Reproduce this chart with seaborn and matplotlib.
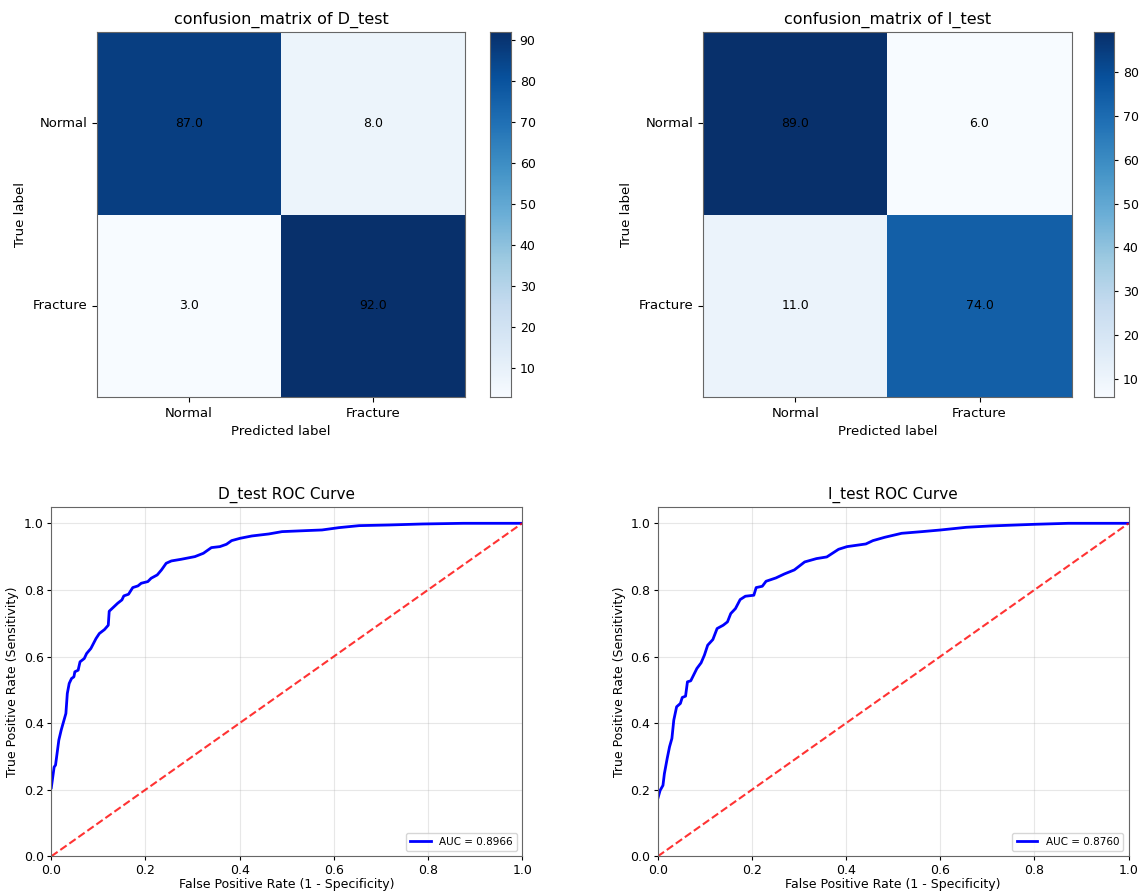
import numpy as np
import pandas as pd
import matplotlib
matplotlib.use("Agg")
import matplotlib.pyplot as plt
import seaborn as sns

class_names = ["Normal", "Fracture"]

cm_d_test = [[87, 8],
             [3, 92]]
cm_i_test = [[89, 6],
             [11, 74]]

# ROC points
fpr_d = [0.0, 0.006, 0.009, 0.016, 0.021, 0.027, 0.031, 0.034, 0.038, 0.043, 0.048, 0.050,
         0.057, 0.061, 0.070, 0.075, 0.084, 0.095, 0.102, 0.113, 0.121, 0.123, 0.132, 0.141,
         0.150, 0.154, 0.164, 0.173, 0.184, 0.191, 0.205, 0.212, 0.225, 0.234, 0.244, 0.255,
         0.276, 0.305, 0.323, 0.340, 0.358, 0.372, 0.383, 0.401, 0.426, 0.462, 0.490, 0.540,
         0.575, 0.611, 0.654, 0.718, 0.789, 0.875, 1.0]
tpr_d = [0.206, 0.268, 0.274, 0.349, 0.379, 0.409, 0.429, 0.489, 0.519, 0.534, 0.539, 0.554,
         0.559, 0.584, 0.594, 0.609, 0.624, 0.654, 0.669, 0.681, 0.694, 0.736, 0.748, 0.760,
         0.770, 0.782, 0.787, 0.807, 0.812, 0.820, 0.825, 0.835, 0.845, 0.860, 0.880, 0.887,
         0.892, 0.900, 0.910, 0.927, 0.930, 0.937, 0.948, 0.955, 0.962, 0.968, 0.975, 0.978,
         0.980, 0.987, 0.993, 0.995, 0.998, 1.0, 1.0]
auc_d = 0.8966

fpr_i = [0.0, 0.005, 0.011, 0.014, 0.020, 0.025, 0.030, 0.034, 0.040, 0.048, 0.052, 0.059,
         0.063, 0.070, 0.076, 0.083, 0.092, 0.099, 0.106, 0.117, 0.126, 0.139, 0.148, 0.155,
         0.165, 0.175, 0.186, 0.204, 0.209, 0.222, 0.230, 0.251, 0.269, 0.290, 0.312, 0.337,
         0.359, 0.384, 0.402, 0.442, 0.457, 0.482, 0.518, 0.561, 0.601, 0.655, 0.706, 0.800,
         0.872, 1.0]
tpr_i = [0.173, 0.198, 0.213, 0.248, 0.294, 0.329, 0.354, 0.409, 0.449, 0.459, 0.477, 0.481,
         0.524, 0.527, 0.544, 0.564, 0.581, 0.604, 0.634, 0.651, 0.684, 0.694, 0.704, 0.729,
         0.744, 0.771, 0.781, 0.784, 0.807, 0.811, 0.826, 0.836, 0.848, 0.860, 0.884, 0.894,
         0.899, 0.922, 0.930, 0.938, 0.948, 0.958, 0.970, 0.975, 0.980, 0.988, 0.992, 0.997,
         1.0, 1.0]
auc_i = 0.8760

edge = "#666666"


def plot_confusion(ax, cax, cm, title):
    df = pd.DataFrame(cm, index=class_names, columns=class_names).astype(float)
    sns.heatmap(df, ax=ax, cbar_ax=cax, cmap="Blues", annot=True, fmt=".1f",
                annot_kws={"color": "black", "fontsize": 9})
    for s in ax.spines.values():
        s.set_visible(True)
        s.set_color(edge)
    cax.set_frame_on(True)
    for s in cax.spines.values():
        s.set_visible(True)
        s.set_color(edge)
    cax.tick_params(labelsize=9, length=3)
    ax.set_title(title, fontsize=11.5)
    ax.set_xlabel("Predicted label", fontsize=9.5)
    ax.set_ylabel("True label", fontsize=9.5)
    ax.tick_params(labelsize=9.5, length=3.5)
    plt.setp(ax.get_yticklabels(), rotation=0)
    plt.setp(ax.get_xticklabels(), rotation=0)


def plot_roc(ax, fpr, tpr, auc, title):
    sns.lineplot(x=fpr, y=tpr, ax=ax, color="blue", lw=2, label=f"AUC = {auc:.4f}",
                 sort=False, estimator=None)
    ax.plot([0, 1], [0, 1], color="red", linestyle="--", lw=1.5, alpha=0.8)
    ax.set_xlim(0, 1)
    ax.set_ylim(0, 1.05)
    ax.grid(True, alpha=0.3)
    ax.set_title(title, fontsize=11)
    ax.set_xlabel("False Positive Rate (1 - Specificity)", fontsize=9, labelpad=1)
    ax.set_ylabel("True Positive Rate (Sensitivity)", fontsize=9, labelpad=3)
    ax.tick_params(labelsize=9, length=3, pad=2.5)
    for s in ax.spines.values():
        s.set_color(edge)
    ax.legend(loc="lower right", fontsize=7.5)


fig = plt.figure(figsize=(11.4, 8.92), dpi=100)

ax1 = fig.add_axes([0.085, 0.555, 0.323, 0.409])
cax1 = fig.add_axes([0.430, 0.555, 0.018, 0.409])
ax2 = fig.add_axes([0.617, 0.555, 0.323, 0.409])
cax2 = fig.add_axes([0.960, 0.555, 0.017, 0.409])
ax3 = fig.add_axes([0.045, 0.040, 0.413, 0.392])
ax4 = fig.add_axes([0.577, 0.040, 0.413, 0.392])

plot_confusion(ax1, cax1, cm_d_test, "confusion_matrix of D_test")
plot_confusion(ax2, cax2, cm_i_test, "confusion_matrix of I_test")
plot_roc(ax3, fpr_d, tpr_d, auc_d, "D_test ROC Curve")
plot_roc(ax4, fpr_i, tpr_i, auc_i, "I_test ROC Curve")

fig.savefig("out.png", dpi=100)
